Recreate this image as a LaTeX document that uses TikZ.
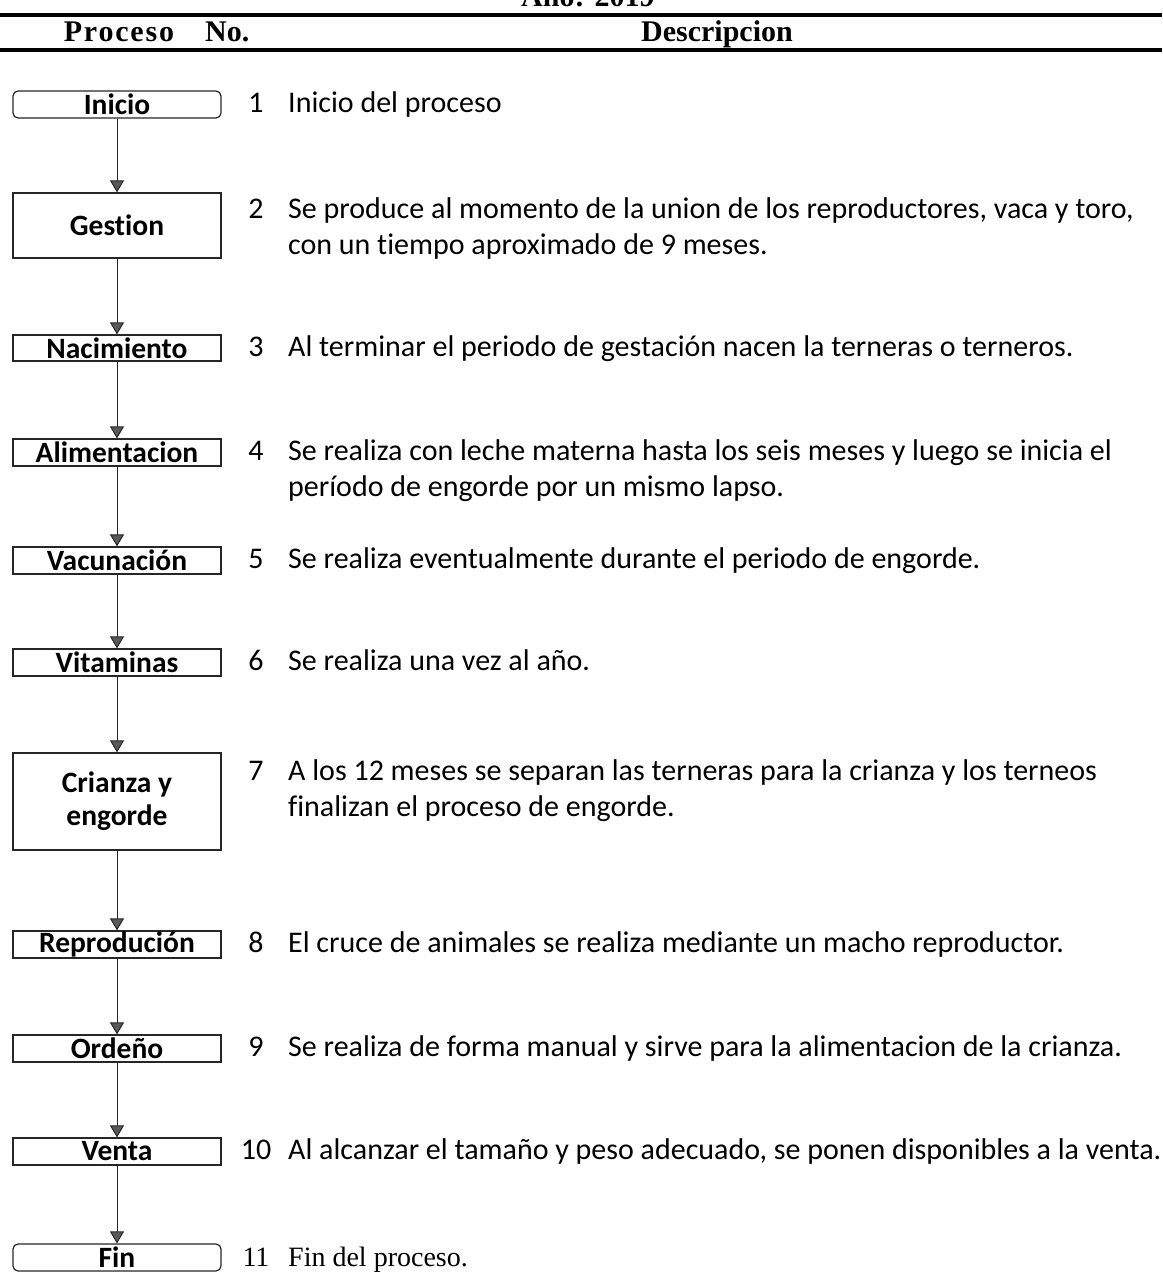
\documentclass[tikz,border=0pt]{standalone}
\usepackage{fontspec}
\setmainfont{Carlito}[Ligatures={NoCommon}]
\newfontfamily\timesfont{Liberation Serif}
\usetikzlibrary{positioning,arrows.meta}

\tikzset{
	paso/.style={draw=black!85, line width=1.2pt, minimum width=208pt, inner sep=0pt, align=center,
		font=\bfseries\fontsize{29.5}{33}\selectfont},
	extremo/.style={paso, rounded corners=5pt},
	flecha/.style={draw=black!85, line width=1pt, -{Triangle[width=14pt,length=12pt,fill=black!65]}},
	numero/.style={anchor=base, inner sep=0pt, font=\fontsize{30}{36}\selectfont},
	texto/.style={anchor=base west, inner sep=0pt, font=\fontsize{30}{36}\selectfont},
	cabecera/.style={anchor=base, inner sep=0pt, font=\timesfont\bfseries\fontsize{30}{36}\selectfont},
	raya/.style={line width=3.5pt}
}

\begin{document}
\begin{tikzpicture}[x=1pt,y=-1pt]
	\useasboundingbox (0,0) rectangle (1162,1274);

	\node[cabecera, anchor=base west] (anio) at (521,6) {Año: 2019};
	\draw[raya] (0,15) -- (1162,15);
	\node[cabecera] (hproceso) at (119,41) {\addfontfeature{LetterSpace=6}Proceso};
	\node[cabecera, anchor=base west] (hno) at (205,41) {No.};
	\node[cabecera] (hdesc) at (717,41) {Descripcion};
	\draw[raya] (0,50) -- (1162,50);

	\node[extremo, minimum height=27pt] (inicio) at (117,104.5) {Inicio};
	\node[paso, minimum height=65pt] (gestion) at (117,225.5) {Gestion};
	\node[paso, minimum height=26pt] (nacimiento) at (117,348) {Nacimiento};
	\node[paso, minimum height=27pt] (alimentacion) at (117,452.5) {Alimentacion};
	\node[paso, minimum height=27pt] (vacunacion) at (117,560.5) {Vacunación};
	\node[paso, minimum height=27pt] (vitaminas) at (117,662.5) {Vitaminas};
	\node[paso, minimum height=97pt] (crianza) at (117,801.5) {Crianza y\\engorde};
	\node[paso, minimum height=27pt] (reproducion) at (117,944.5) {Reprodución};
	\node[paso, minimum height=27pt] (ordeno) at (117,1048.5) {Ordeño};
	\node[paso, minimum height=27pt] (venta) at (117,1151.5) {Venta};
	\node[extremo, minimum height=27pt] (fin) at (117,1257.5) {Fin};

	\foreach \a/\b in {inicio/gestion, gestion/nacimiento, nacimiento/alimentacion,
		alimentacion/vacunacion, vacunacion/vitaminas, vitaminas/crianza,
		crianza/reproducion, reproducion/ordeno, ordeno/venta, venta/fin}
		\draw[flecha] (\a) -- (\b);

	\node[numero] (n1) at (256,112) {1};
	\node[texto] (d1) at (288,112) {Inicio del proceso};
	\node[numero] (n2) at (256,218) {2};
	\node[texto] (d2a) at (288,218) {Se produce al momento de la union de los reproductores, vaca y toro,};
	\node[texto] (d2b) at (288,254) {con un tiempo aproximado de 9 meses.};
	\node[numero] (n3) at (256,356) {3};
	\node[texto] (d3) at (288,356) {Al terminar el periodo de gestación nacen la terneras o terneros.};
	\node[numero] (n4) at (256,460) {4};
	\node[texto] (d4a) at (288,460) {Se realiza con leche materna hasta los seis meses y luego se inicia el};
	\node[texto] (d4b) at (288,496) {período de engorde por un mismo lapso.};
	\node[numero] (n5) at (256,568) {5};
	\node[texto] (d5) at (288,568) {Se realiza eventualmente durante el periodo de engorde.};
	\node[numero] (n6) at (256,670) {6};
	\node[texto] (d6) at (288,670) {Se realiza una vez al año.};
	\node[numero] (n7) at (256,780) {7};
	\node[texto] (d7a) at (288,780) {A los 12 meses se separan las terneras para la crianza y los terneos};
	\node[texto] (d7b) at (288,816) {finalizan el proceso de engorde.};
	\node[numero] (n8) at (256,952) {8};
	\node[texto] (d8) at (288,952) {El cruce de animales se realiza mediante un macho reproductor.};
	\node[numero] (n9) at (256,1056) {9};
	\node[texto] (d9) at (288,1056) {Se realiza de forma manual y sirve para la alimentacion de la crianza.};
	\node[numero] (n10) at (256,1159) {10};
	\node[texto] (d10) at (288,1159) {Al alcanzar el tamaño y peso adecuado, se ponen disponibles a la venta.};
	\node[numero, font=\timesfont\fontsize{28}{34}\selectfont] (n11) at (256,1266) {11};
	\node[texto, font=\timesfont\fontsize{28}{34}\selectfont] (d11) at (288,1266) {Fin del proceso.};
\end{tikzpicture}
\end{document}
